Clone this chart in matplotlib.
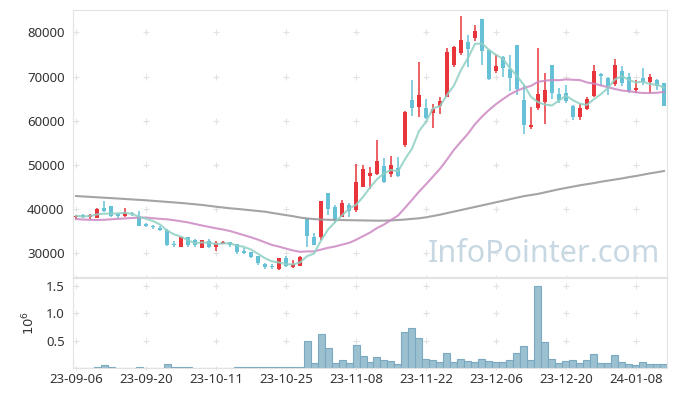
import matplotlib.pyplot as plt
import numpy as np
import pandas as pd

plt.rcParams["font.family"] = ["Noto Sans", "DejaVu Sans"]

# x tick labels, one every 10 trading days
tick_labels = ["23-09-06", "23-09-20", "23-10-11", "23-10-25", "23-11-08",
               "23-11-22", "23-12-06", "23-12-20", "24-01-08"]

# daily OHLC (KRW)
opens = [38200, 38600, 38150, 38100, 40300, 40700, 38800, 38500, 39100, 38500,
         36700, 36100, 35800, 35300, 32200, 31500, 33600, 33000, 31300, 32800,
         31450, 32200, 32500, 32100, 30600, 30200, 29400, 27600, 27200, 26550,
         28900, 27000, 27200, 38000, 33600, 33600, 43600, 40400, 38300, 40900,
         39800, 45100, 47600, 47900, 49800, 48000, 49200, 54500, 64700, 63200,
         62900, 61800, 63400, 65400, 72700, 75400, 77800, 78800, 83000, 76000,
         71300, 74400, 71800, 77100, 64700, 58500, 62900, 64300, 72600, 66000,
         66200, 63300, 60900, 62700, 65600, 70500, 69700, 68400, 71200, 69800,
         66900, 69600, 68700, 69300, 68500]
highs = [38600, 39000, 38900, 40300, 41800, 40800, 39200, 40200, 39300, 39500,
         36800, 36400, 36300, 35400, 32800, 33800, 33700, 33300, 33100, 33200,
         32900, 32900, 32600, 32200, 31200, 30300, 29500, 27900, 27600, 29000,
         29300, 28400, 29400, 38000, 34700, 41900, 43700, 40900, 42100, 41300,
         50100, 50000, 49500, 55600, 51500, 52000, 51700, 62100, 69200, 73300,
         64900, 63700, 65300, 76400, 77000, 83800, 79300, 81600, 83100, 76100,
         75100, 74700, 74800, 77200, 68000, 63100, 76400, 70700, 72700, 67300,
         68100, 63600, 63700, 65300, 72600, 70700, 69800, 73900, 72400, 70700,
         69200, 71900, 70500, 69400, 68600]
lows = [37700, 38100, 37800, 38000, 39400, 38300, 38100, 38300, 38500, 36200,
        35900, 35600, 35000, 31700, 31400, 31400, 31400, 31400, 31200, 31300,
        30500, 32100, 31400, 29900, 29800, 28950, 27400, 26400, 26500, 26150,
        26900, 26600, 27100, 31400, 31800, 33100, 38600, 36900, 38200, 38300,
        39400, 44900, 44600, 47800, 45900, 47300, 47300, 54000, 61000, 60900,
        60500, 58300, 61500, 65300, 72100, 74800, 72100, 78000, 72700, 69300,
        70700, 70000, 66700, 65800, 56900, 58200, 62400, 59200, 64900, 64000,
        63900, 60200, 60100, 62500, 65300, 67900, 65800, 67800, 67900, 66200,
        66200, 68000, 66300, 66900, 63300]
closes = [38500, 38200, 38600, 40000, 39600, 38500, 38550, 39200, 38800, 36300,
          36300, 35900, 35300, 32000, 32000, 33700, 31900, 31800, 33000, 31500,
          32300, 32550, 32000, 30400, 30100, 29200, 27800, 27000, 26800, 28950,
          27150, 27600, 29200, 33900, 31900, 41800, 40100, 37600, 41500, 39500,
          46100, 49100, 48200, 50900, 46100, 50000, 47500, 62000, 62900, 65800,
          60700, 62700, 64400, 75500, 76600, 78200, 76300, 80400, 75800, 69500,
          72400, 72000, 69700, 67100, 59100, 59100, 66000, 66900, 66200, 64700,
          64500, 60900, 62900, 64900, 71200, 70200, 67900, 72600, 68600, 66800,
          67400, 68800, 69900, 67900, 63400]
volumes = [4000, 5000, 4000, 20000, 50000, 20000, 4000, 3000, 4000, 20000,
           3000, 4000, 3000, 70000, 20000, 20000, 20000, 3000, 4000, 3000,
           4000, 3000, 4000, 18000, 18000, 18000, 18000, 18000, 18000, 18000,
           18000, 18000, 18000, 490000, 90000, 620000, 370000, 90000, 150000, 90000,
           420000, 220000, 110000, 200000, 150000, 125000, 70000, 660000, 725000, 540000,
           160000, 140000, 110000, 270000, 110000, 160000, 125000, 110000, 160000, 125000,
           110000, 110000, 140000, 270000, 400000, 140000, 1495000, 470000, 160000, 90000,
           125000, 140000, 90000, 140000, 250000, 90000, 90000, 235000, 110000, 70000,
           50000, 110000, 70000, 70000, 70000]

# 20-day MA for the first bars (history before the window)
ma20_head = [37770, 37650, 37580, 37550, 37580, 37700, 37800, 37900, 38000, 38080,
             38100, 37950, 37800, 37700, 37500, 37250, 37000, 36650, 36300]
# 120-day MA
ma120 = [42970, 42870, 42780, 42680, 42590, 42500, 42400, 42300, 42200, 42100,
         42000, 41880, 41760, 41640, 41520, 41400, 41250, 41100, 40950, 40750,
         40550, 40370, 40190, 40060, 39900, 39740, 39580, 39420, 39150, 38900,
         38650, 38400, 38100, 37900, 37750, 37650, 37600, 37550, 37540, 37500,
         37480, 37450, 37420, 37400, 37400, 37450, 37550, 37650, 37800, 37930,
         38150, 38450, 38750, 39100, 39450, 39800, 40150, 40500, 40850, 41200,
         41550, 41900, 42250, 42600, 42950, 43200, 43450, 43800, 44150, 44500,
         44800, 45100, 45400, 45650, 45900, 46200, 46450, 46700, 46950, 47250,
         47500, 47800, 48100, 48350, 48630]

df = pd.DataFrame(dict(open=opens, high=highs, low=lows, close=closes, volume=volumes))
n = len(df)
x = np.arange(n)
df["ma5"] = df["close"].rolling(5, min_periods=1).mean()
df["ma20"] = df["close"].rolling(20).mean()
df.loc[:len(ma20_head) - 1, "ma20"] = ma20_head
df["ma120"] = ma120

up = df["close"] >= df["open"]
c_up, c_dn = "#e8353b", "#66c1d6"
colors = np.where(up, c_up, c_dn)
grid_c = "#e2e2e2"
text_c = "#333333"

fig = plt.figure(figsize=(6.77, 3.96), dpi=100)
W, H = 677, 396
ax = fig.add_axes([73 / W, 1 - 277 / H, 594 / W, 267 / H])
axv = fig.add_axes([73 / W, 1 - 368 / H, 594 / W, 90 / H], sharex=ax)

# -- candles --
ax.vlines(x, df["low"], df["high"], colors=colors, lw=1.1, zorder=2)
body = (df["close"] - df["open"]).abs().clip(lower=150)
ax.bar(x, body, bottom=df[["open", "close"]].min(axis=1), width=0.7,
       color=colors, lw=0, zorder=3)

ax.plot(x, df["ma120"], color="#9a9a9a", lw=1.5, alpha=0.9, zorder=4)
ax.plot(x, df["ma20"], color="#cc88c2", lw=1.5, alpha=0.85, zorder=4)
ax.plot(x, df["ma5"], color="#8fd0c4", lw=1.5, alpha=0.85, zorder=4)

ax.text(0.988, 0.03, "InfoPointer.com", transform=ax.transAxes, ha="right",
        va="bottom", fontsize=22, color="#c7d8e2", zorder=1)

# -- volume --
axv.bar(x, df["volume"], width=1.0, color="#9bc0d0", edgecolor="#7aa9c0",
        lw=0.8, zorder=2)

ticks = np.arange(0, n, 10)
yt_main = [30000, 40000, 50000, 60000, 70000, 80000]
yt_vol = [0.5e6, 1.0e6, 1.5e6]

ax.set_xlim(-0.43, n - 1 + 0.43)
ax.set_ylim(24650, 85050)
axv.set_ylim(0, 1.64e6)

for a, yts in ((ax, yt_main), (axv, yt_vol)):
    gx, gy = np.meshgrid(ticks, yts)
    a.scatter(gx.ravel(), gy.ravel(), marker="+", s=18, color=grid_c, lw=0.8, zorder=0)
    a.set_yticks(yts)
    for s in a.spines.values():
        s.set_color(grid_c)
    a.tick_params(axis="y", length=0, pad=6, labelsize=9.5, labelcolor=text_c)
    a.set_xticks(ticks)
    a.tick_params(axis="x", length=3, color=grid_c, direction="inout")

ax.tick_params(axis="x", labelbottom=False)
axv.set_xticklabels(tick_labels)
axv.tick_params(axis="x", labelsize=9.5, labelcolor=text_c, pad=2)
axv.set_yticklabels([f"{v / 1e6:.1f}" for v in yt_vol])
axv.set_ylabel("$10^6$", color=text_c, fontsize=9.5, labelpad=6)

fig.savefig("out.png", dpi=100)
